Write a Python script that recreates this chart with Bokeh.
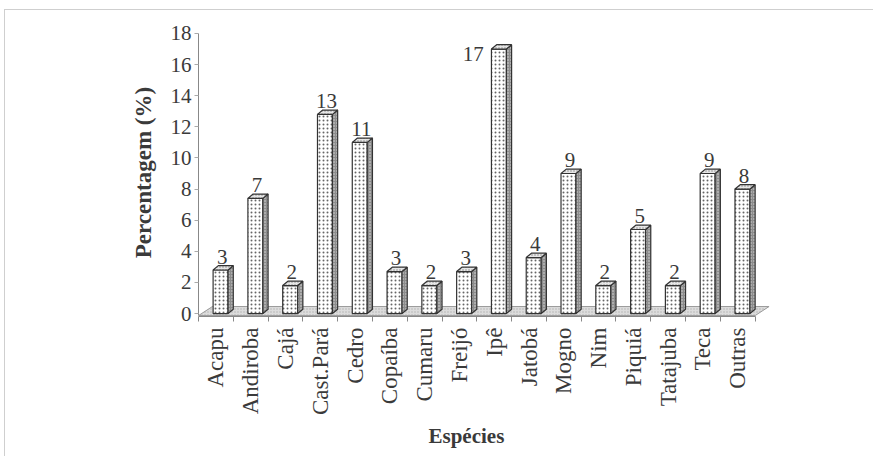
import math
from bokeh.plotting import figure
from bokeh.models import FixedTicker, Title, ColumnDataSource
from bokeh.embed import file_html
from bokeh.resources import INLINE

species = ["Acapu", "Andiroba", "Cajá", "Cast.Pará", "Cedro", "Copaíba", "Cumaru",
           "Freijó", "Ipê", "Jatobá", "Mogno", "Nim", "Piquiá", "Tatajuba", "Teca", "Outras"]
values = [2.8, 7.4, 1.8, 12.8, 11.0, 2.7, 1.8, 2.7, 17.0, 3.6, 9.0, 1.8, 5.4, 1.8, 9.0, 8.0]
value_labels = ["3", "7", "2", "13", "11", "3", "2", "3", "17", "4", "9", "2", "5", "2", "9", "8"]
y_ticks = [0, 2, 4, 6, 8, 10, 12, 14, 16, 18]

FONT = "Liberation Serif"
TXT = "#3a3a3a"
n = len(species)

W, H = 869, 447
p = figure(width=W, height=H, output_backend="svg", toolbar_location=None,
           x_range=(0, n + 0.7), y_range=(-0.19, 18.32),
           min_border_left=193, min_border_right=95, min_border_top=18, min_border_bottom=141)
p.grid.visible = False
p.outline_line_color = None
p.background_fill_color = "white"
p.border_fill_color = "white"
p.styles = {"margin-left": "4px", "margin-top": "9px",
            "border-top": "1px solid #cfcfcf", "border-left": "1px solid #cfcfcf"}

# 3D geometry (style constants)
dx_floor, dy_floor = 0.4, 0.58
f0 = -0.13
bl, br = 0.42, 0.85
ddx, ddy = 0.15, 0.28

# floor
p.patch([0, n, n + dx_floor, dx_floor], [f0, f0, f0 + dy_floor, f0 + dy_floor],
        fill_color="#dcdcdc", line_color="#9a9a9a", line_width=1,
        hatch_pattern="dot", hatch_color="#b0b0b0", hatch_scale=3, hatch_weight=1)

xs_side, ys_side, xs_top, ys_top = [], [], [], []
lefts, rights = [], []
for i, v in enumerate(values):
    l, r = i + bl, i + br
    lefts.append(l)
    rights.append(r)
    xs_side.append([r, r + ddx, r + ddx, r])
    ys_side.append([0, ddy, v + ddy, v])
    xs_top.append([l, r, r + ddx, l + ddx])
    ys_top.append([v, v, v + ddy, v + ddy])

p.quad(left=lefts, right=rights, bottom=[0] * n, top=values,
       fill_color="white", line_color="#333333", line_width=1.2,
       hatch_pattern="dot", hatch_color="#666666", hatch_scale=4, hatch_weight=1)
p.patches(xs_side, ys_side, fill_color="#8c8c8c", line_color="#333333", line_width=1.2,
          hatch_pattern="dot", hatch_color="#dddddd", hatch_scale=3, hatch_weight=1)
p.patches(xs_top, ys_top, fill_color="#e6e6e6", line_color="#333333", line_width=1.2,
          hatch_pattern="dot", hatch_color="#888888", hatch_scale=3, hatch_weight=1)

# value labels
lx, ly = [], []
for i, v in enumerate(values):
    if v > 16.5:
        lx.append(i - 0.1)
        ly.append(v - 0.35)
    else:
        lx.append(i + 0.68)
        ly.append(v + 0.85)
src = ColumnDataSource(dict(x=lx, y=ly, t=value_labels))
p.text(x="x", y="y", text="t", source=src, text_align="center", text_baseline="alphabetic",
       text_font={"value": FONT}, text_font_size={"value": "21px"}, text_color=TXT)

# x axis
xt = [i + 0.5 for i in range(n)]
p.xaxis.ticker = FixedTicker(ticks=xt, minor_ticks=list(range(n + 1)))
p.xaxis.major_label_overrides = {t: s for t, s in zip(xt, species)}
p.xaxis.major_label_orientation = math.pi / 2
p.xaxis.bounds = (0, n)
p.xaxis.major_tick_out = 0
p.xaxis.major_tick_in = 0
p.xaxis.minor_tick_out = 5
p.xaxis.minor_tick_in = 0
p.xaxis.minor_tick_line_color = "#888888"
p.xaxis.axis_line_color = "#888888"
p.xaxis.major_label_standoff = 6
p.xaxis.major_label_text_font = FONT
p.xaxis.major_label_text_font_size = "23px"
p.xaxis.major_label_text_color = TXT

# y axis
p.yaxis.ticker = FixedTicker(ticks=y_ticks)
p.yaxis.bounds = (f0, 18)
p.yaxis.major_tick_out = 4
p.yaxis.major_tick_in = 0
p.yaxis.minor_tick_line_color = None
p.yaxis.major_tick_line_color = "#aaaaaa"
p.yaxis.axis_line_color = "#888888"
p.yaxis.major_label_standoff = 3
p.yaxis.major_label_text_font = FONT
p.yaxis.major_label_text_font_size = "21px"
p.yaxis.major_label_text_color = TXT
p.yaxis.axis_label = "Percentagem (%)"
p.yaxis.axis_label_text_font = FONT
p.yaxis.axis_label_text_font_size = "23px"
p.yaxis.axis_label_text_font_style = "bold"
p.yaxis.axis_label_text_color = TXT
p.yaxis.axis_label_standoff = 12

p.add_layout(Title(text="Espécies", align="left", offset=230, standoff=7,
                   text_font=FONT, text_font_size="21px", text_font_style="bold",
                   text_color=TXT), "below")

open("out.html", "w").write(file_html(p, INLINE))
